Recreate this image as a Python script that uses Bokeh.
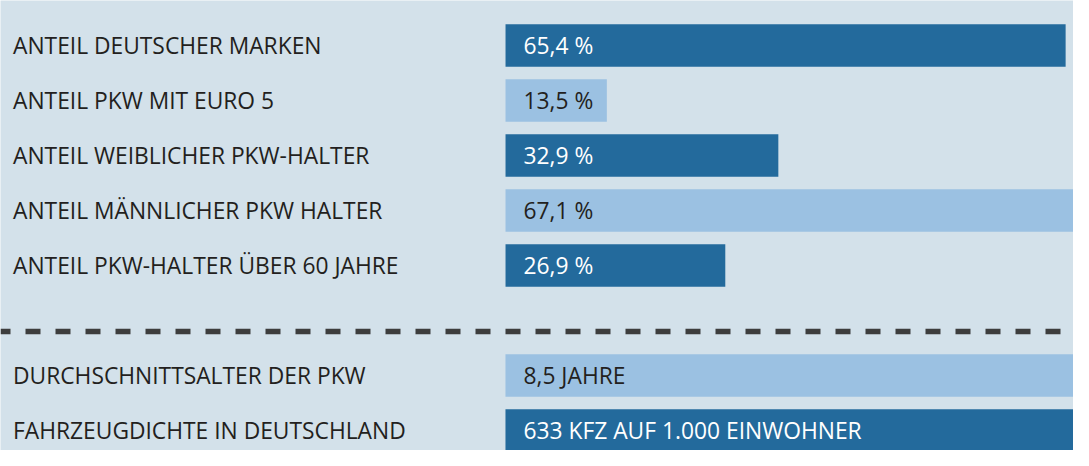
from bokeh.plotting import figure
from bokeh.models import Range1d, Span, ColumnDataSource
from bokeh.core.properties import value
from bokeh.embed import file_html
from bokeh.resources import INLINE

# ---- data ----
share_labels = ["ANTEIL DEUTSCHER MARKEN", "ANTEIL PKW MIT EURO 5",
                "ANTEIL WEIBLICHER PKW-HALTER", "ANTEIL MÄNNLICHER PKW HALTER",
                "ANTEIL PKW-HALTER ÜBER 60 JAHRE"]
share_values = [65.4, 13.5, 32.9, 67.1, 26.9]
share_texts = ["65,4 %", "13,5 %", "32,9 %", "67,1 %", "26,9 %"]

info_labels = ["DURCHSCHNITTSALTER DER PKW", "FAHRZEUGDICHTE IN DEUTSCHLAND"]
info_values = [8.5, 633]
info_texts = ["8,5 JAHRE", "633 KFZ AUF 1.000 EINWOHNER"]

# ---- style ----
BG = "#d3e1ea"
DARK = "#236a9c"
LIGHT = "#9bc1e2"
TXT = "#231f20"
FONT = "Open Sans"
FS = "22.8px"
X0, X1 = -55.09, 66.29
BAR_BASE = 2.04   # where the bars start on the share scale
BAR_H = 0.77

W, H = 1073, 450
ROW0, STEP = 45.0, 55.0
p = figure(width=W, height=H, output_backend="svg", toolbar_location=None,
           x_range=Range1d(X0, X1),
           y_range=Range1d((H - ROW0) / STEP, -ROW0 / STEP),
           x_axis_location=None, y_axis_location=None, min_border=0)
p.background_fill_color = BG
p.border_fill_color = BG
p.outline_line_color = None
p.grid.visible = False
p.extra_x_ranges = {"info": Range1d(-7.40, 8.324)}

n = len(share_labels)
m = len(info_labels)
rows_top = list(range(n))
rows_bot = [n + 1 + i for i in range(m)]
top_fill = [DARK if i % 2 == 0 else LIGHT for i in range(n)]
top_txt = ["white" if c == DARK else TXT for c in top_fill]
bot_fill = [LIGHT if i % 2 == 0 else DARK for i in range(m)]
bot_txt = ["white" if c == DARK else TXT for c in bot_fill]

top = ColumnDataSource(dict(y=rows_top, v=share_values, base=[BAR_BASE] * n,
                            lab=share_labels, t=share_texts, fill=top_fill, tc=top_txt,
                            lx=[X0] * n))
bot = ColumnDataSource(dict(y=rows_bot, v=info_values, base=[0] * m,
                            lab=info_labels, t=info_texts, fill=bot_fill, tc=bot_txt,
                            lx=[X0] * m))

p.hbar(y="y", left="base", right="v", height=BAR_H, fill_color="fill",
       line_color=None, source=top)
p.hbar(y="y", left="base", right="v", height=BAR_H, fill_color="fill",
       line_color=None, source=bot, x_range_name="info")

for src, rng in ((top, "default"), (bot, "info")):
    p.text(x="lx", y="y", text="lab", source=src, x_offset=12.5,
           text_font=value(FONT), text_font_size=FS, text_color=TXT,
           text_baseline="middle", text_align="left")
    p.text(x="base", y="y", text="t", source=src, x_offset=18,
           text_font=value(FONT), text_font_size=FS, text_color="tc",
           text_baseline="middle", text_align="left", x_range_name=rng)

p.add_layout(Span(location=5.2, dimension="width", line_color="#3d3d3d",
                  line_width=5.5, line_dash="15 15", line_dash_offset=5))

open("out.html", "w").write(file_html(p, INLINE))
